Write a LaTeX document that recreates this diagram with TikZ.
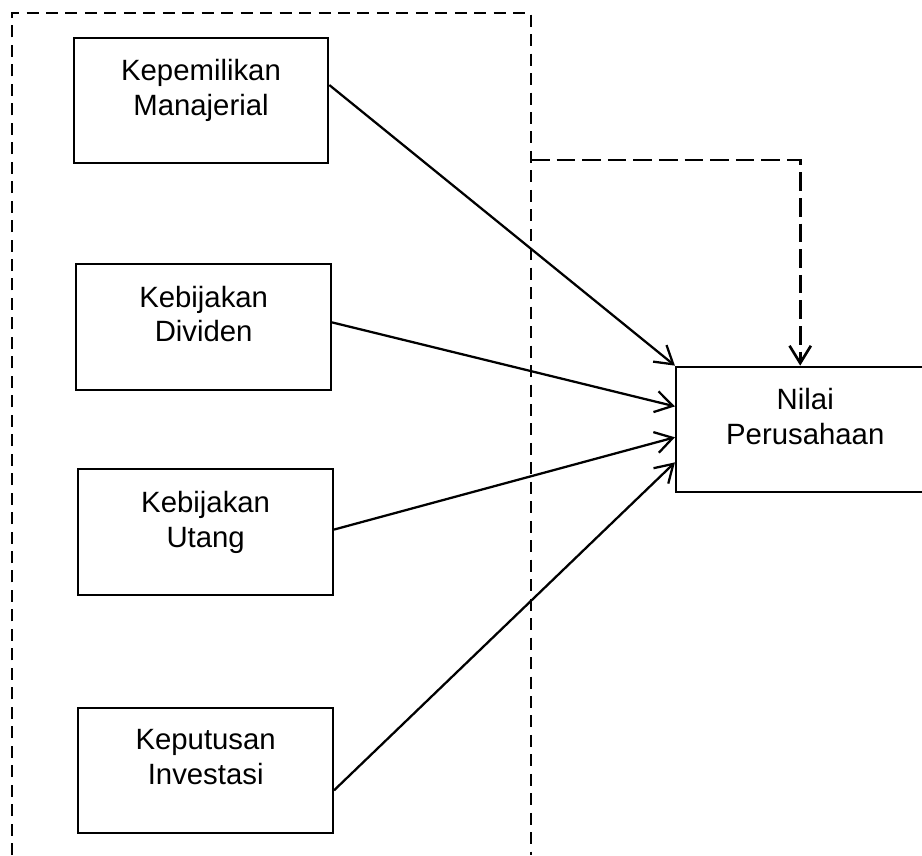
\documentclass[tikz,border=0pt]{standalone}
\usepackage{fontspec}
\setmainfont{Liberation Sans}
\usetikzlibrary{arrows.meta}

\begin{document}
\begin{tikzpicture}[
  x=0.375pt, y=-0.375pt,
  block/.style={rectangle, draw, line width=0.75pt, minimum width=95.5pt, minimum height=47pt, align=center, execute at end node={\rule[-9.8pt]{0pt}{9.8pt}}},
  link/.style={-{Straight Barb[length=6.5pt,width=8pt]}, line width=0.85pt},
  group/.style={dash pattern=on 4.5pt off 2.8pt, line width=0.7pt},
  font=\fontsize{11}{13.1}\selectfont
]
\useasboundingbox (0,0) rectangle (922,855);

\node[block] at (201,100.5) (manajerial) {Kepemilikan\\Manajerial};
\node[block, below of=manajerial, node distance=84.9pt, xshift=1pt] (dividen) {Kebijakan\\Dividen};
\node[block, below of=dividen, node distance=76.9pt, xshift=0.75pt] (utang) {Kebijakan\\Utang};
\node[block, below of=utang, node distance=89.4pt] (investasi) {Keputusan\\Investasi};
\node[block, right of=dividen, node distance=225.6pt, yshift=-38.4pt, minimum width=97pt] (nilai) {Nilai\\Perusahaan};

\draw[group] (12,855) -- (12,13) -- (531,13) -- (531,855);
\coordinate (tap) at (531,160);

\draw[link] ([yshift=5.8pt]manajerial.east) -- (nilai.north west);
\draw[link] ([yshift=1.7pt]dividen.east) -- ([yshift=8.6pt]nilai.west);
\draw[link] ([yshift=0.9pt]utang.east) -- ([yshift=-3pt]nilai.west);
\draw[link] ([yshift=-7.5pt]investasi.east) -- ([yshift=-12.4pt]nilai.west);
\draw[link, line width=1pt, dash pattern=on 7pt off 2.6pt] (tap) -| ([xshift=-1.9pt]nilai.north);
\end{tikzpicture}
\end{document}
